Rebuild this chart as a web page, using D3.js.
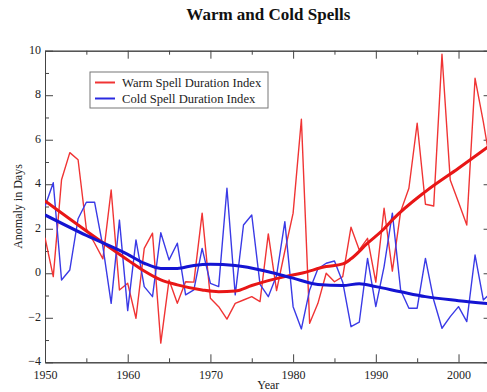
<!DOCTYPE html>
<html>
<head>
<meta charset="utf-8">
<script src="https://cdn.jsdelivr.net/npm/d3@7"></script>
<style>
  html, body { margin: 0; padding: 0; background: #fff; }
  svg { display: block; font-family: "Liberation Serif", "DejaVu Serif", serif; }
</style>
</head>
<body>
<svg id="chart" width="487" height="392"></svg>
<script>
// Annual anomalies (days) of the two spell-duration indices
const years = d3.range(1950, 2005);
const warmSpell = [
  1.6, -0.15, 4.2, 5.42, 5.1, 2.0, 1.35, 0.65, 3.74, -0.75,
  -0.45, -2.02, 1.12, 1.8, -3.14, -0.3, -1.35, -0.38, -0.4, 2.7,
  -1.12, -1.5, -2.06, -1.35, -1.2, -1.05, -1.27, 1.77, -0.78, 1.0,
  2.7, 6.92, -2.25, -1.35, 0.0, -0.38, -0.15, 2.07, 1.05, 1.57,
  -0.4, 2.92, 0.1, 2.77, 3.82, 6.74, 3.1, 3.02, 9.84, 4.19,
  3.19, 2.17, 8.76, 6.8, 4.6
];
const coldSpell = [
  3.0, 4.07, -0.3, 0.15, 2.45, 3.19, 3.19, 1.2, -1.35, 2.39,
  -1.68, 1.5, -0.6, -1.05, 1.82, 0.6, 1.35, -0.97, -0.75, 1.12,
  -0.45, -0.6, 3.82, -0.97, 2.17, 2.62, -0.5, -1.05, -0.1, 2.32,
  -1.5, -2.5, -0.75, 0.2, 0.45, 0.55, -0.4, -2.4, -2.2, 0.67,
  -1.5, 0.3, 2.7, -0.75, -1.57, -1.57, 0.67, -1.2, -2.47, -1.95,
  -1.5, -2.17, 0.82, -1.2, -0.85
];

// Smoothed trend curves
const warmTrendYears = [1950, 1955, 1960, 1962, 1964, 1966, 1969, 1971, 1973, 1975, 1977, 1979, 1981, 1984, 1986, 1987, 1989, 1991, 1992, 1996, 2000, 2004];
const warmTrend      = [3.25, 1.9, 0.6, 0.1, -0.3, -0.52, -0.75, -0.83, -0.8, -0.55, -0.33, -0.15, 0.0, 0.3, 0.42, 0.65, 1.35, 2.0, 2.4, 3.67, 4.72, 5.8];
const coldTrendYears = [1950, 1955, 1960, 1962, 1964, 1966, 1968, 1970, 1973, 1977, 1980, 1983, 1986, 1988, 1990, 1993, 1996, 2000, 2004];
const coldTrend      = [2.62, 1.7, 0.85, 0.45, 0.22, 0.22, 0.35, 0.4, 0.35, 0.07, -0.22, -0.5, -0.55, -0.47, -0.6, -0.83, -1.05, -1.23, -1.38];

// Axis ticks and labels
const xMajorTicks = [1950, 1960, 1970, 1980, 1990, 2000];
const xMinorTicks = [1955, 1965, 1975, 1985, 1995];
const yMajorTicks = [-4, -2, 0, 2, 4, 6, 8, 10];
const yMinorTicks = [-3, -1, 1, 3, 5, 7, 9];
const legendLabels = ["Warm Spell Duration Index", "Cold Spell Duration Index"];

const svg = d3.select("#chart");
const x = d3.scaleLinear().domain([1950, 2004]).range([45, 491.6]);
const y = d3.scaleLinear().domain([-4, 10]).range([362.3, 50.7]);

const plotLeft = x.range()[0], plotRight = x.range()[1];
const plotTop = y.range()[1], plotBottom = y.range()[0];

svg.append("defs").append("clipPath").attr("id", "plotClip")
  .append("rect").attr("x", plotLeft).attr("y", plotTop)
  .attr("width", plotRight - plotLeft).attr("height", plotBottom - plotTop);

// Title
svg.append("text")
  .attr("x", (plotLeft + plotRight) / 2).attr("y", 20)
  .attr("text-anchor", "middle")
  .attr("font-size", 17).attr("font-weight", "bold").attr("fill", "#111")
  .text("Warm and Cold Spells");

// Axes with inward ticks on all four sides
const axisColor = "#444";
function styleAxis(g) {
  g.selectAll("path.domain").attr("stroke", axisColor).attr("stroke-width", 1);
  g.selectAll(".tick line").attr("stroke", axisColor);
  g.selectAll(".tick text").attr("fill", "#222").attr("font-family", "Liberation Serif").attr("font-size", 12);
}

svg.append("g").attr("transform", `translate(0,${plotBottom})`)
  .call(d3.axisBottom(x).tickValues(xMajorTicks).tickFormat(d3.format("d"))
    .tickSizeInner(-8).tickSizeOuter(0).tickPadding(8))
  .call(styleAxis);
svg.append("g").attr("transform", `translate(0,${plotBottom})`)
  .call(d3.axisBottom(x).tickValues(xMinorTicks).tickFormat("").tickSizeInner(-4).tickSizeOuter(0))
  .call(styleAxis);

svg.append("g").attr("transform", `translate(0,${plotTop})`)
  .call(d3.axisTop(x).tickValues(xMajorTicks).tickFormat("").tickSizeInner(-8).tickSizeOuter(0))
  .call(styleAxis);
svg.append("g").attr("transform", `translate(0,${plotTop})`)
  .call(d3.axisTop(x).tickValues(xMinorTicks).tickFormat("").tickSizeInner(-4).tickSizeOuter(0))
  .call(styleAxis);

svg.append("g").attr("transform", `translate(${plotLeft},0)`)
  .call(d3.axisLeft(y).tickValues(yMajorTicks).tickFormat(d3.format("d"))
    .tickSizeInner(-8).tickSizeOuter(0).tickPadding(4))
  .call(styleAxis)
  .call(g => g.selectAll(".tick text").attr("dy", "0.2em"));
svg.append("g").attr("transform", `translate(${plotLeft},0)`)
  .call(d3.axisLeft(y).tickValues(yMinorTicks).tickFormat("").tickSizeInner(-4).tickSizeOuter(0))
  .call(styleAxis);

svg.append("g").attr("transform", `translate(${plotRight},0)`)
  .call(d3.axisRight(y).tickValues(yMajorTicks).tickFormat("").tickSizeInner(-8).tickSizeOuter(0))
  .call(styleAxis);
svg.append("g").attr("transform", `translate(${plotRight},0)`)
  .call(d3.axisRight(y).tickValues(yMinorTicks).tickFormat("").tickSizeInner(-4).tickSizeOuter(0))
  .call(styleAxis);

// Axis titles
svg.append("text")
  .attr("x", (plotLeft + plotRight) / 2).attr("y", 389)
  .attr("text-anchor", "middle").attr("font-size", 12).attr("fill", "#222")
  .text("Year");
svg.append("text")
  .attr("transform", `translate(22,${(plotTop + plotBottom) / 2}) rotate(-90)`)
  .attr("text-anchor", "middle").attr("font-size", 12).attr("fill", "#222")
  .text("Anomaly in Days");

// Series
const plot = svg.append("g").attr("clip-path", "url(#plotClip)");
const rawLine = d3.line().x(d => x(d[0])).y(d => y(d[1]));
const smoothLine = d3.line().x(d => x(d[0])).y(d => y(d[1])).curve(d3.curveMonotoneX);

plot.append("path").datum(d3.zip(years, warmSpell))
  .attr("d", rawLine).attr("fill", "none")
  .attr("stroke", "#f03434").attr("stroke-width", 1.4).attr("stroke-linejoin", "round");
plot.append("path").datum(d3.zip(years, coldSpell))
  .attr("d", rawLine).attr("fill", "none")
  .attr("stroke", "#3a3ae6").attr("stroke-width", 1.4).attr("stroke-linejoin", "round");
plot.append("path").datum(d3.zip(warmTrendYears, warmTrend))
  .attr("d", smoothLine).attr("fill", "none")
  .attr("stroke", "#e81616").attr("stroke-width", 3);
plot.append("path").datum(d3.zip(coldTrendYears, coldTrend))
  .attr("d", smoothLine).attr("fill", "none")
  .attr("stroke", "#1414d2").attr("stroke-width", 3);

// Legend
const legend = svg.append("g");
legend.append("rect")
  .attr("x", 90).attr("y", 72).attr("width", 178).attr("height", 36)
  .attr("fill", "#fff").attr("stroke", "#777").attr("stroke-width", 1);
const legendColors = ["#f03434", "#2a2ae0"];
legendLabels.forEach((label, i) => {
  const ly = 82.5 + i * 16;
  legend.append("line")
    .attr("x1", 95).attr("x2", 115).attr("y1", ly).attr("y2", ly)
    .attr("stroke", legendColors[i]).attr("stroke-width", 2);
  legend.append("text")
    .attr("x", 122).attr("y", ly + 4)
    .attr("font-size", 12.6).attr("fill", "#222")
    .text(label);
});
</script>
</body>
</html>
